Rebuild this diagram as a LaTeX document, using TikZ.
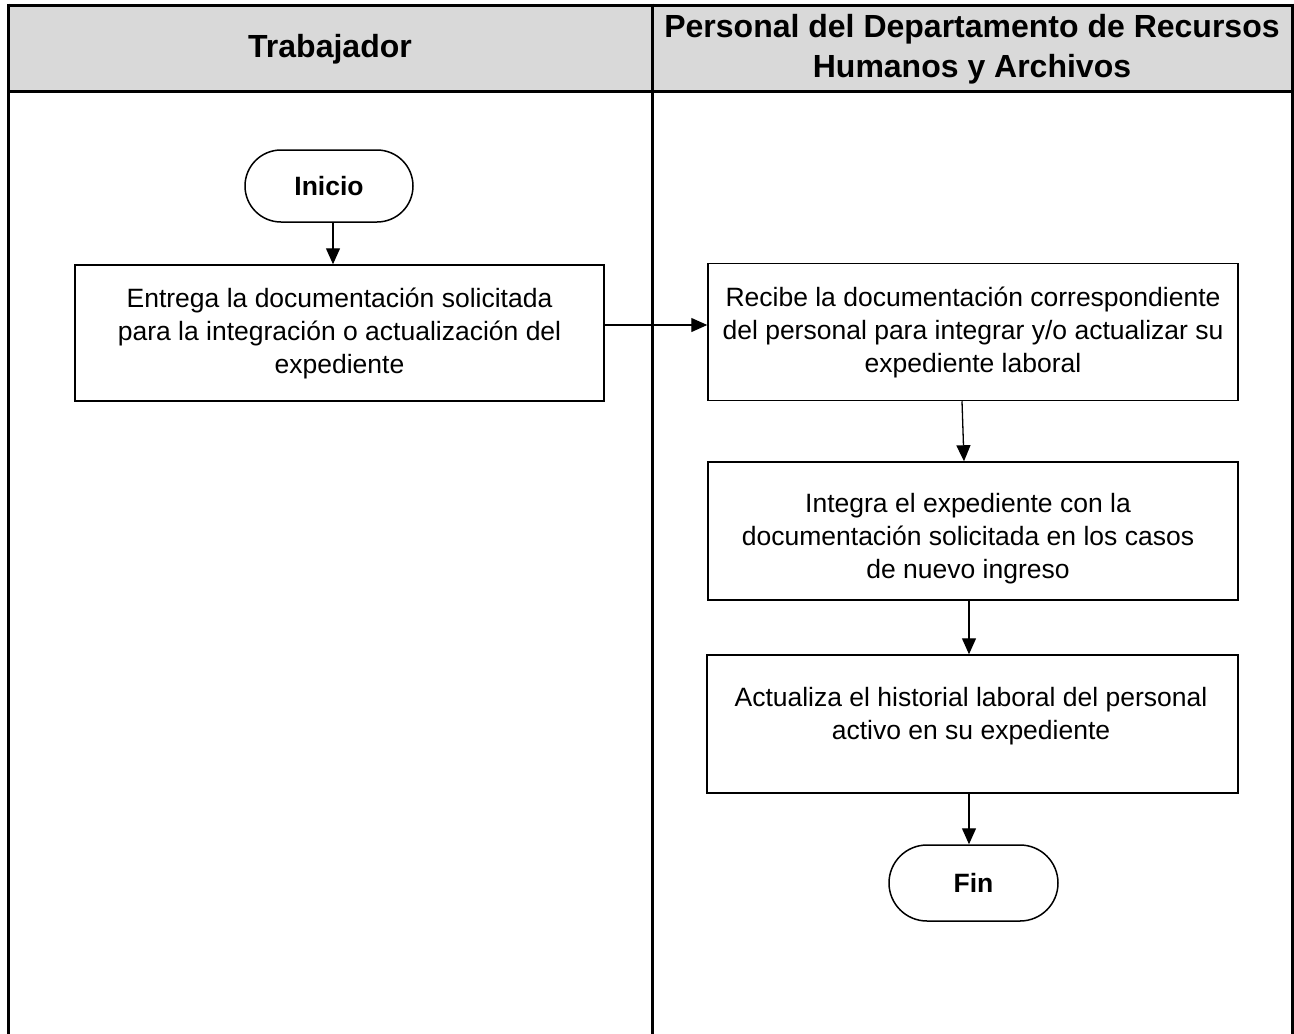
\documentclass[tikz,border=0pt]{standalone}
\usepackage{fontspec}
\setmainfont{Liberation Sans}
\usetikzlibrary{arrows.meta}
\definecolor{headgray}{HTML}{D9D9D9}
\tikzset{
  lane/.style={line width=3pt},
  procbox/.style={draw, line width=1.5pt, rectangle, align=center,
    font=\fontsize{26.5}{33}\selectfont, inner sep=0pt},
  term/.style={draw, line width=1.5pt, rectangle, align=center,
    font=\fontsize{26.5}{32}\selectfont\bfseries, inner sep=0pt},
  flow/.style={line width=1.3pt, -{Triangle[length=16pt,width=14pt]}},
  headtxt/.style={align=center, font=\fontsize{32}{40}\selectfont\bfseries}
}
\begin{document}
\begin{tikzpicture}[x=1pt,y=-1pt]
\useasboundingbox (0,0) rectangle (1294,1034);
% header
\fill[headgray] (8,5) rectangle (1292,91);
\draw[lane] (8,5) -- (1292,5);
\draw[lane] (8,91) -- (1292,91);
\draw[lane] (8,3.5) -- (8,1034);
\draw[lane] (652,3.5) -- (652,1034);
\draw[lane] (1292,3.5) -- (1292,1034);
\node[headtxt] (h1) at (330,49) {Trabajador};
\node[headtxt] (h2) at (972,49) {Personal del Departamento de Recursos\\Humanos y Archivos};
% nodes
\node[term, minimum width=168pt, minimum height=72pt, rounded corners=36pt] (ini) at (329,186) {Inicio};
\node[procbox, minimum width=529pt, minimum height=136pt] (b1) at (339.5,333) {Entrega la documentación solicitada\\para la integración o actualización del\\expediente};
\node[procbox, minimum width=530pt, minimum height=137pt] (b2) at (973,332) {Recibe la documentación correspondiente\\del personal para integrar y/o actualizar su\\expediente laboral};
\node[procbox, minimum width=530pt, minimum height=138pt] (b3) at (973,531) {};
\node[align=center, font=\fontsize{26.5}{33}\selectfont, inner sep=0pt] (t3) at (968,539) {Integra el expediente con la\\documentación solicitada en los casos\\de nuevo ingreso};
\node[procbox, minimum width=531pt, minimum height=138pt] (b4) at (972.5,724) {};
\node[align=center, font=\fontsize{26.5}{33}\selectfont, inner sep=0pt] (t4) at (971,716) {Actualiza el historial laboral del personal\\activo en su expediente};
\node[term, minimum width=169pt, minimum height=76pt, rounded corners=38pt] (fin) at (973.5,883) {Fin};
% connectors
\draw[flow] (ini.south -| 333,0) -- (b1.north -| 333,0);
\draw[flow] (b1.east |- 0,325) -- (b2.west |- 0,325);
\draw[flow] (b2.south -| 962,0) -- (b3.north -| 964,0);
\draw[flow] (b3.south -| 969,0) -- (b4.north -| 969,0);
\draw[flow] (b4.south -| 969,0) -- (fin.north -| 969,0);
\end{tikzpicture}
\end{document}
